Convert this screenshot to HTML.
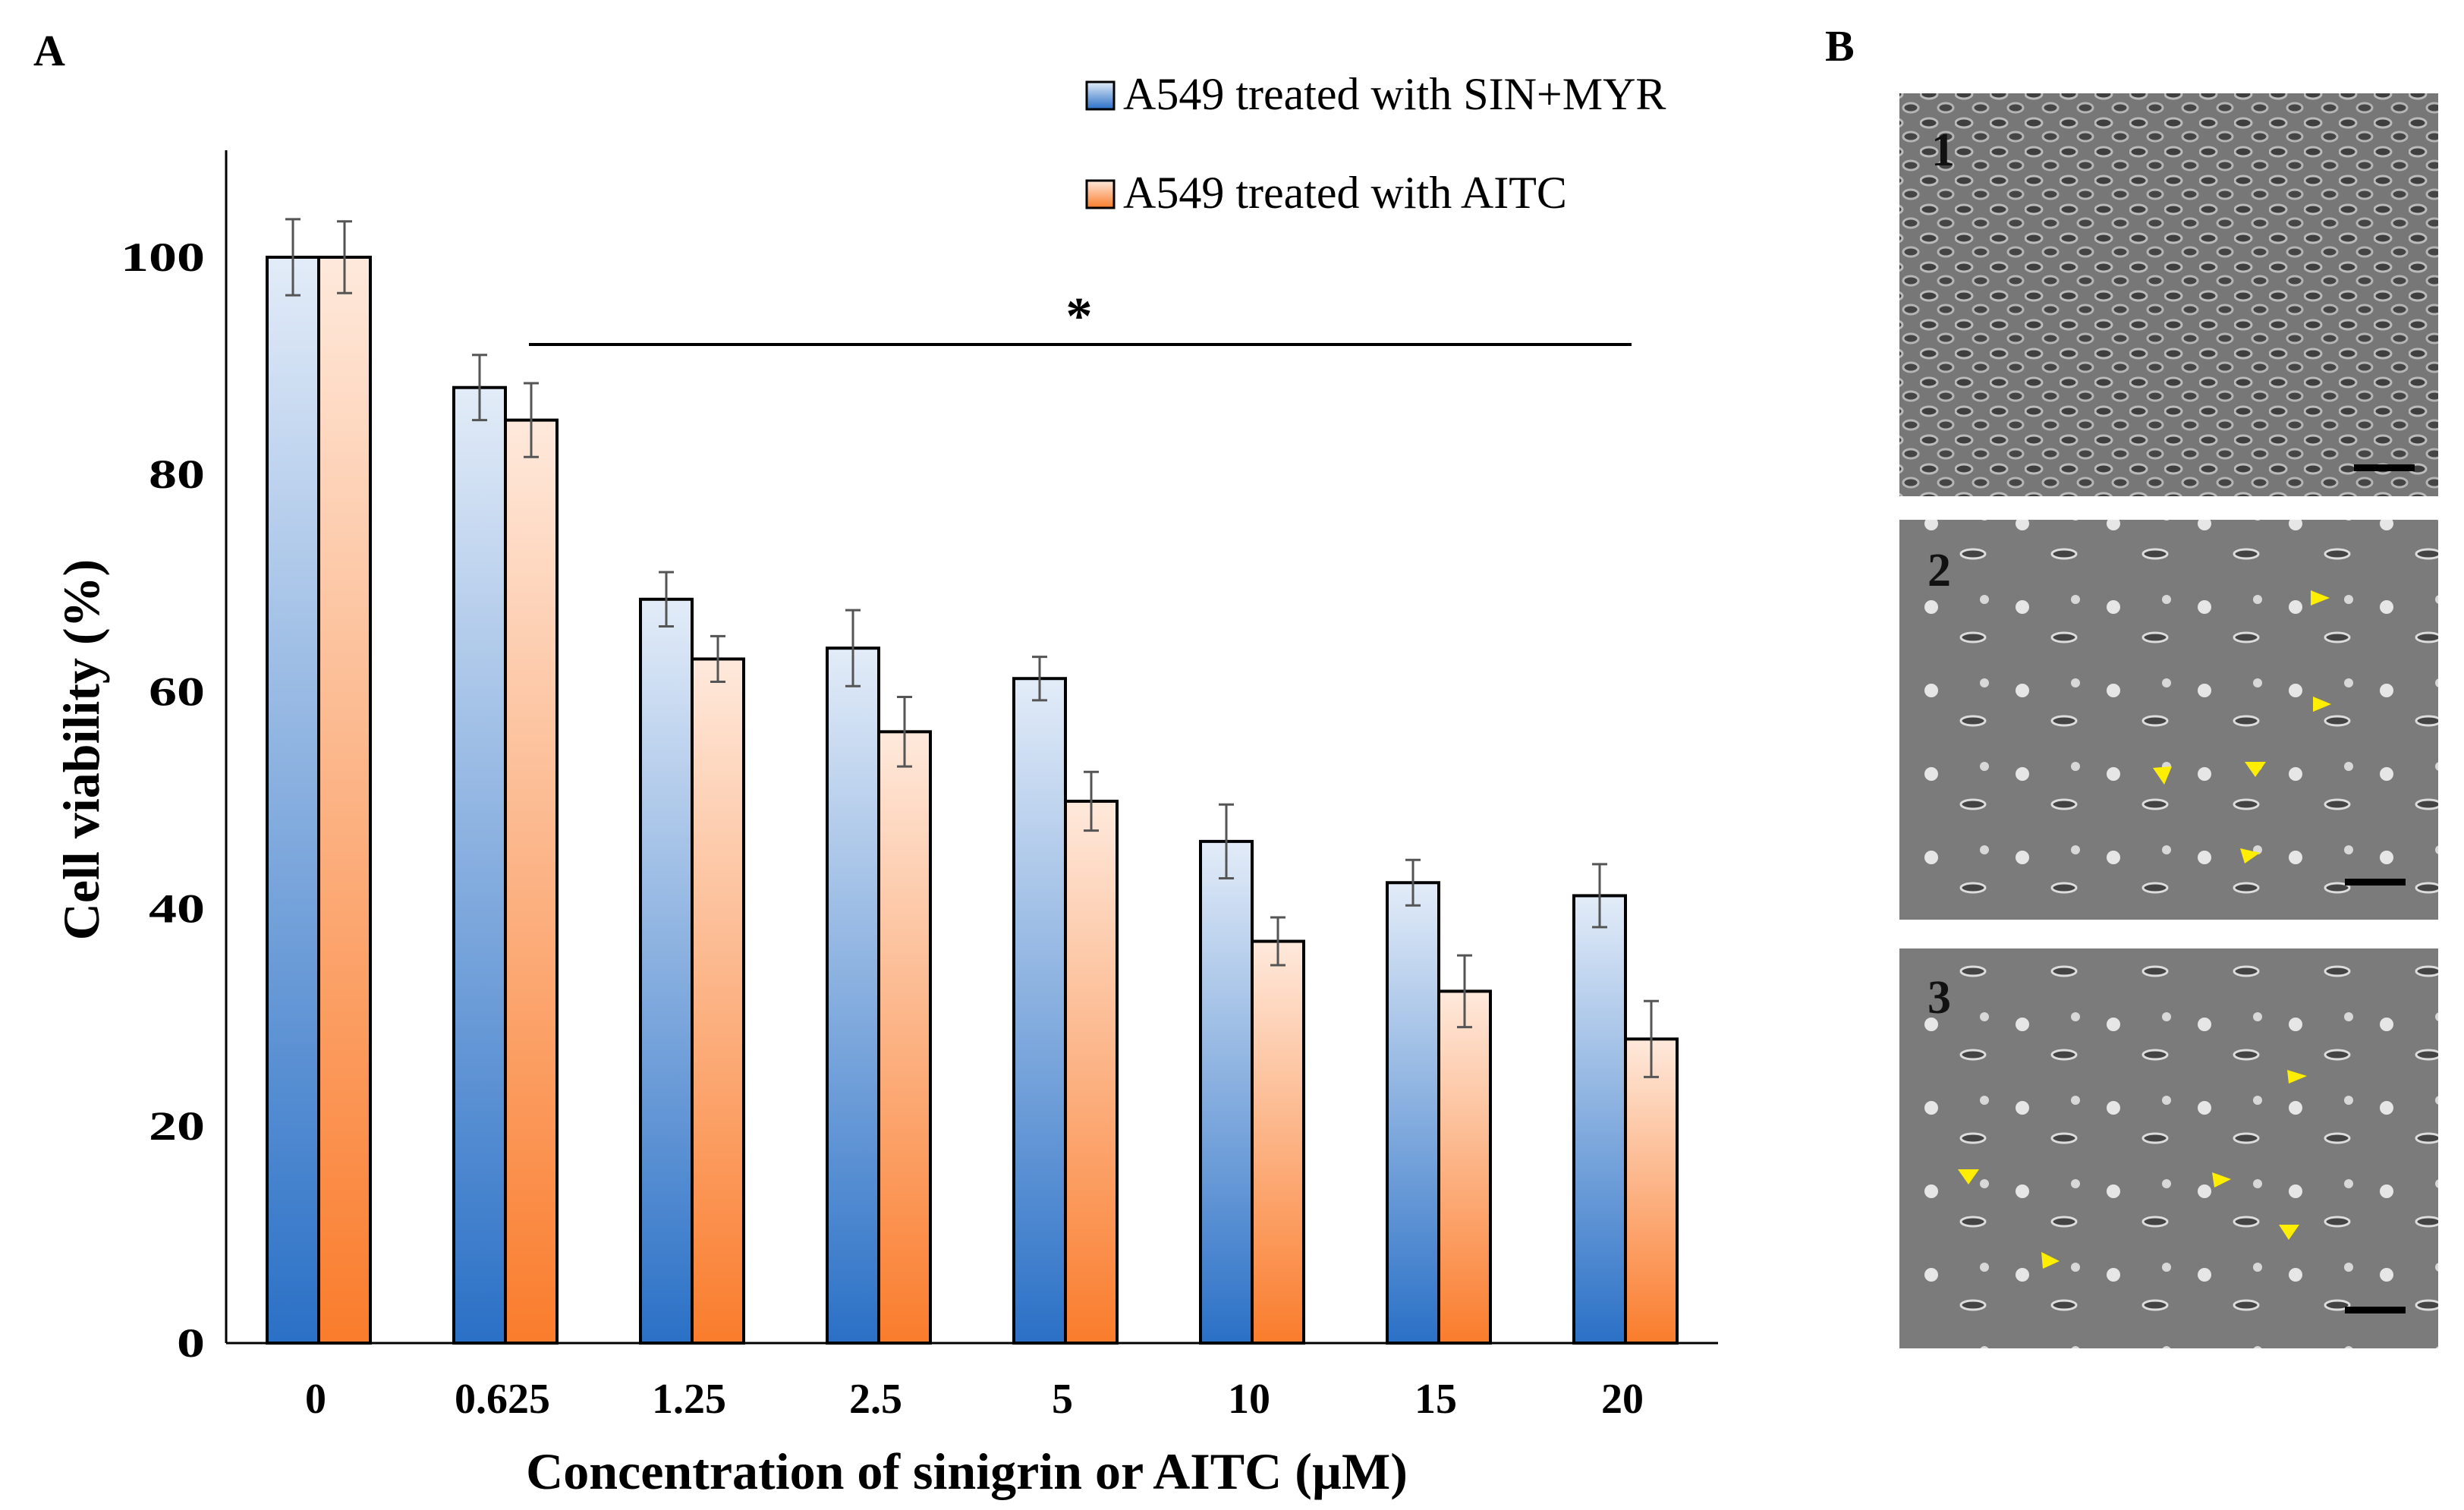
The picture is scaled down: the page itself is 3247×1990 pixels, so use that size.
<!DOCTYPE html>
<html><head><meta charset="utf-8"><style>
body{margin:0;background:#fff;}
svg{display:block;font-family:"Liberation Serif",serif;}
</style></head><body>
<svg width="3247" height="1990" viewBox="0 0 3247 1990" xmlns="http://www.w3.org/2000/svg">
<defs>
<linearGradient id="gb" x1="0" y1="0" x2="0" y2="1"><stop offset="0" stop-color="#e3ecf8"/><stop offset="1" stop-color="#2a70c6"/></linearGradient>
<linearGradient id="go" x1="0" y1="0" x2="0" y2="1"><stop offset="0" stop-color="#fee9dc"/><stop offset="1" stop-color="#fa7c2c"/></linearGradient>
<pattern id="cells1" width="46" height="38" patternUnits="userSpaceOnUse"><rect width="46" height="38" fill="#777"/><ellipse cx="12" cy="10" rx="11" ry="6" fill="#3f3f3f" stroke="#bbb" stroke-width="3"/><ellipse cx="34" cy="28" rx="10" ry="6" fill="#454545" stroke="#b5b5b5" stroke-width="3"/></pattern>
<pattern id="cells2" width="120" height="110" patternUnits="userSpaceOnUse"><rect width="120" height="110" fill="#7b7b7b"/><circle cx="25" cy="30" r="9" fill="#e6e6e6"/><ellipse cx="80" cy="70" rx="16" ry="6" fill="#444" stroke="#ddd" stroke-width="3"/><circle cx="95" cy="20" r="6" fill="#d8d8d8"/></pattern>
</defs>
<text x="44" y="86" font-size="58" font-weight="bold">A</text>
<text x="2405" y="80" font-size="58" font-weight="bold">B</text>
<g id="chart"></g>
<g>
<rect x="2503" y="123" width="710" height="531" fill="url(#cells1)"/>
<text x="2545" y="218" font-size="62" font-weight="bold" fill="#111">1</text>
<rect x="3102" y="612" width="80" height="9" fill="#000"/>
<rect x="2503" y="685" width="710" height="527" fill="url(#cells2)"/>
<text x="2540" y="772" font-size="62" font-weight="bold" fill="#111">2</text>
<rect x="3090" y="1158" width="80" height="9" fill="#000"/>
<rect x="2503" y="1250" width="710" height="527" fill="url(#cells2)"/>
<text x="2540" y="1335" font-size="62" font-weight="bold" fill="#111">3</text>
<rect x="3090" y="1722" width="80" height="9" fill="#000"/>
<g fill="#ffee00">
<polygon points="3045,778 3070,788 3045,798"/><polygon points="3048,918 3072,928 3048,938"/><polygon points="2837,1012 2852,1034 2862,1010"/><polygon points="2958,1004 2986,1004 2972,1024"/><polygon points="2952,1118 2978,1124 2958,1138"/>
<polygon points="2580,1541 2608,1541 2594,1561"/><polygon points="2690,1650 2714,1662 2692,1672"/><polygon points="2915,1545 2940,1554 2918,1565"/><polygon points="3014,1410 3040,1418 3016,1428"/><polygon points="3003,1614 3030,1614 3016,1634"/>
</g>
</g>
</svg>
<script>
const categories=["0","0.625","1.25","2.5","5","10","15","20"];
const sinValues=[100,88,68.5,64,61.2,46.2,42.4,41.2];
const sinErrors=[3.5,3,2.5,3.5,2,3.4,2.1,2.9];
const aitcValues=[100,85,63,56.3,49.9,37,32.4,28];
const aitcErrors=[3.3,3.4,2.1,3.2,2.7,2.2,3.3,3.5];
const yTicks=[0,20,40,60,80,100];
const NS="http://www.w3.org/2000/svg";
const g=document.getElementById('chart');
const x0=298,x1=2264,yBase=1770,yTop=198;
const yScale=v=>yBase-v*(1770-339)/100;
const xCenter=i=>420+i*246;
const bw=68;
function el(t,a,p){const e=document.createElementNS(NS,t);for(const k in a)e.setAttribute(k,a[k]);(p||g).appendChild(e);return e;}
let e;
e=el('line',{x1:x0,y1:yTop,x2:x0,y2:yBase,stroke:'#000','stroke-width':3});


e=el('line',{x1:x0,y1:yBase,x2:x1,y2:yBase,stroke:'#000','stroke-width':3});


yTicks.forEach(v=>{
 const s=String(v);
 e=el('text',{x:x0-28,y:yScale(v)+18,'font-size':54,'font-weight':'bold','text-anchor':'end',textLength:s.length*37,lengthAdjust:'spacingAndGlyphs'});e.textContent=s;
 
 
});
function bar(i,v,err,left,fill,name){
 const xc=xCenter(i);const bx=left?xc-bw:xc;
 e=el('rect',{x:bx,y:yScale(v),width:bw,height:yBase-yScale(v),fill:fill,stroke:'#000','stroke-width':4});
 
 
 const cx=bx+bw/2;
 e=el('path',{d:`M${cx},${yScale(v+err)}V${yScale(v-err)}M${cx-10},${yScale(v+err)}h20M${cx-10},${yScale(v-err)}h20`,stroke:'#555','stroke-width':3,fill:'none'});
 
 
}
categories.forEach((c,i)=>{
 bar(i,sinValues[i],sinErrors[i],true,'url(#gb)','bar-sin-myr');
 bar(i,aitcValues[i],aitcErrors[i],false,'url(#go)','bar-aitc');
 e=el('text',{x:xCenter(i)-4,y:1862,'font-size':56,'font-weight':'bold','text-anchor':'middle'});e.textContent=c;
 
 
});
e=el('text',{x:1274,y:1962,'font-size':68,'font-weight':'bold','text-anchor':'middle'});e.textContent='Concentration of sinigrin or AITC (\u00b5M)';


e=el('text',{x:0,y:0,'font-size':68,'font-weight':'bold','text-anchor':'middle',transform:'translate(130,988) rotate(-90)'});e.textContent='Cell viability (%)';


e=el('line',{x1:697,y1:454,x2:2150,y2:454,stroke:'#000','stroke-width':4});


e=el('text',{x:1422,y:440,'font-size':70,'font-weight':'bold','text-anchor':'middle'});e.textContent='*';


[['url(#gb)','A549 treated with SIN+MYR',108],['url(#go)','A549 treated with AITC',238]].forEach(([f,t,y],k)=>{
 e=el('rect',{x:1432,y:y,width:36,height:36,fill:f,stroke:'#000','stroke-width':3});
 
 
 e=el('text',{x:1480,y:y+36,'font-size':60});e.textContent=t;
 
 
});
</script>
</body></html>
